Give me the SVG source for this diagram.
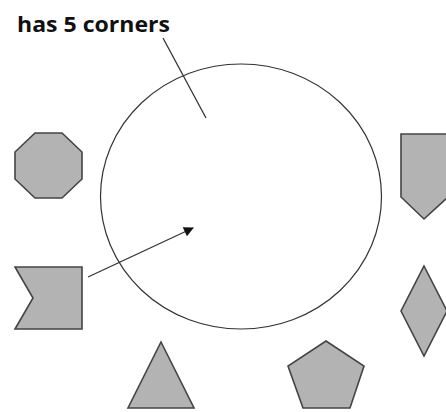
<svg xmlns="http://www.w3.org/2000/svg" width="446" height="412" viewBox="0 0 446 412">
<defs>
<style>
.shape{fill:#b3b3b3;stroke:#444;stroke-width:1.6;stroke-linejoin:miter}
.conn{stroke:#333;stroke-width:1.3;fill:none}
.lbl{font-family:"Open Sans","Liberation Sans",sans-serif;font-weight:bold;font-size:21px;fill:#111}
</style>
<marker id="ah" viewBox="0 0 10 10" refX="9" refY="5" markerWidth="12" markerHeight="10" markerUnits="userSpaceOnUse" orient="auto">
<path d="M0,0 L10,5 L0,10 z" fill="#111"/>
</marker>
</defs>
<rect width="446" height="412" fill="#fff"/>
<g id="set">
<ellipse cx="241" cy="196.5" rx="140.5" ry="132.5" fill="none" stroke="#333" stroke-width="1.2"/>
</g>
<g id="label">
<text class="lbl" x="17" y="32" textLength="153" lengthAdjust="spacingAndGlyphs">has 5 corners</text>
</g>
<g id="octagon"><polygon class="shape" points="35,133 62,133 82,152 82,179 62,198 35,198 15,179 15,152"/></g>
<g id="notched"><polygon class="shape" points="15,267 82,267 82,329 15,329 33,298"/></g>
<g id="shield"><polygon class="shape" points="401,134 448,134 448,197 424,219 401,197"/></g>
<g id="diamond"><polygon class="shape" points="424,266 447,311 424,356 401,311"/></g>
<g id="triangle"><polygon class="shape" points="161,342 194,408 128,408"/></g>
<g id="pentagon"><polygon class="shape" points="326,341 364,366 350,408 303,408 288,366"/></g>
<g id="connectors">
<line class="conn" x1="163" y1="38" x2="206" y2="118"/>
<line class="conn" x1="88" y1="277" x2="193" y2="228" marker-end="url(#ah)"/>
</g>
</svg>
